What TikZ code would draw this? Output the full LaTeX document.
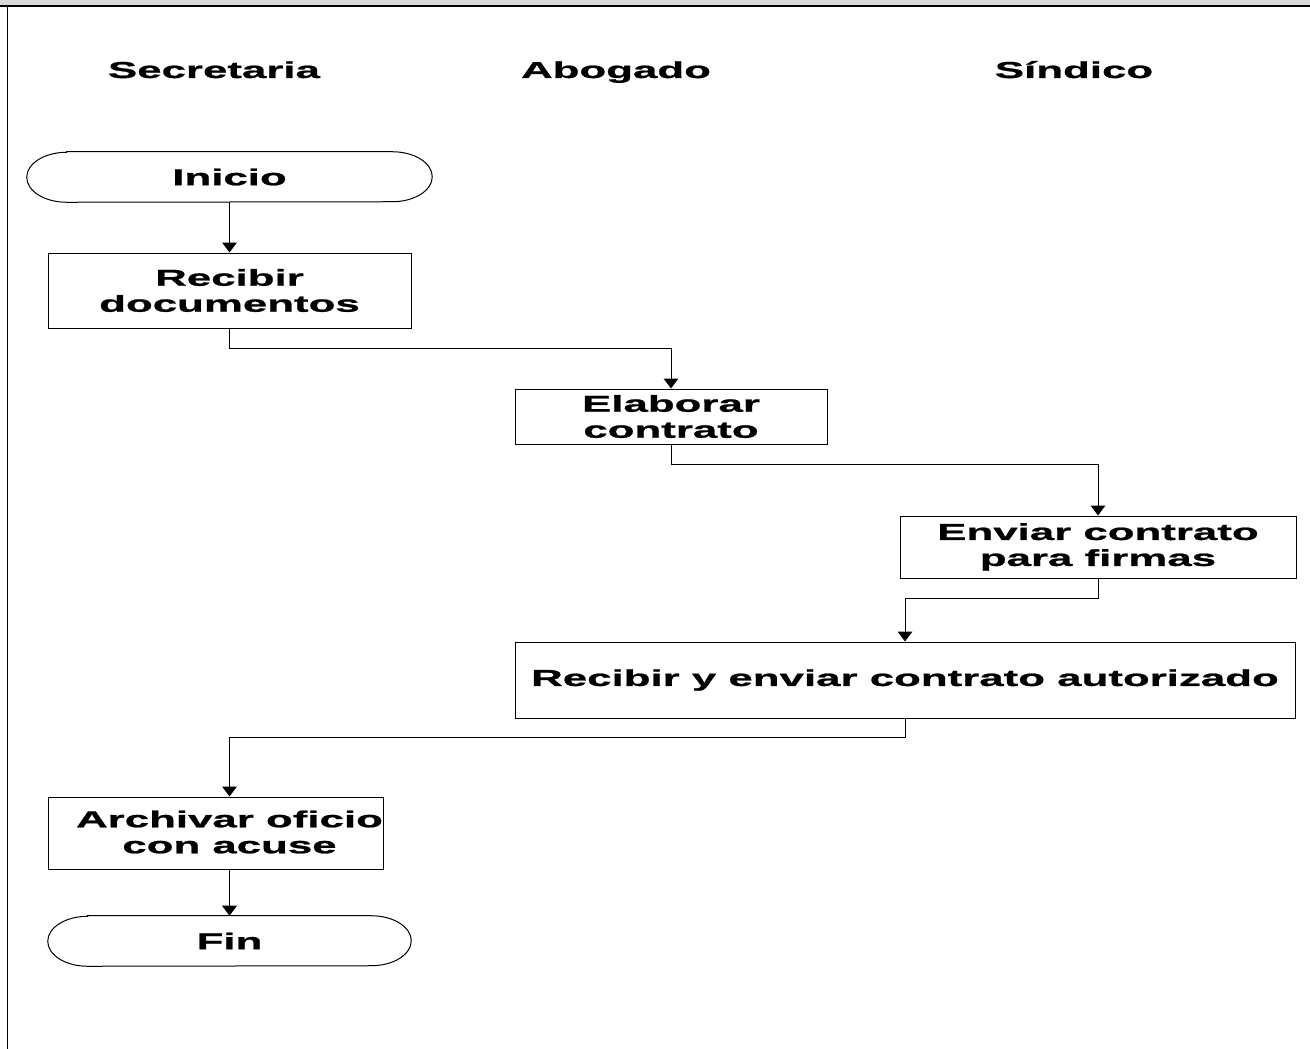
\documentclass[tikz,border=0pt]{standalone}
\usepackage{fontspec}
\setmainfont{Liberation Sans}[FakeStretch=1.9,FakeBold=1]
\usetikzlibrary{arrows.meta}
\begin{document}
\begin{tikzpicture}[x=0.75pt,y=-0.75pt,
  lbl/.style={font=\fontsize{17.3}{19.5}\selectfont\bfseries, align=center, inner sep=0pt},
  head/.style={lbl, anchor=base},
  proc/.style={lbl, draw=black, line width=0.75pt},
  term/.style={lbl, minimum height=50*0.75pt},
  flow/.style={-{Triangle[width=11pt,length=7.5pt]}, line width=0.75pt}]
\useasboundingbox (0,0) rectangle (1310,1049);

% frame: grey title strip and left border
\fill[gray!30] (0,0) rectangle (1310,6);
\draw[line width=0.9pt] (0,6) -- (1310,6);
\draw[line width=0.9pt] (7.5,6) -- (7.5,1049);

% lane headings
\node[head] (hSec) at (214,78) {Secretaria};
\node[head] (hAbo) at (616,78) {Abogado};
\node[head] (hSin) at (1074,78) {Síndico};

% steps
\node[term, minimum width=405*0.75pt] (inicio) at (229.5,177) {Inicio};
\node[proc, minimum width=363*0.75pt, minimum height=75*0.75pt] (recibir) at (229.5,290.5) {Recibir\\documentos};
\node[proc, minimum width=312*0.75pt, minimum height=55*0.75pt] (elaborar) at (671,416.5) {Elaborar\\contrato};
\node[proc, minimum width=396*0.75pt, minimum height=62*0.75pt] (enviar) at (1098,547) {Enviar contrato\\para firmas};
\node[proc, minimum width=780*0.75pt, minimum height=76*0.75pt] (recEnv) at (905,680) {Recibir y enviar contrato autorizado};
\node[draw=black, line width=0.75pt, minimum width=335*0.75pt, minimum height=72*0.75pt, inner sep=0pt] (archivar) at (215.5,833) {};
\node[lbl] (archTxt) at (229.5,832) {Archivar oficio\\con acuse};
\node[term, minimum width=363*0.75pt] (fin) at (229.5,941) {Fin};

% terminal outlines with elliptical ends
\foreach \t in {inicio,fin}{
  \draw[line width=0.75pt] ([xshift=30pt]\t.north west) -- ([xshift=-30pt]\t.north east)
    arc[start angle=90,end angle=-90,x radius=30pt,y radius=18.75pt]
    -- ([xshift=30pt]\t.south west)
    arc[start angle=270,end angle=90,x radius=30pt,y radius=18.75pt] -- cycle;
}

% connectors
\draw[flow] (inicio.south) -- (recibir.north);
\draw[flow] (recibir.south) -- ++(0,20) -| (elaborar.north);
\draw[flow] (elaborar.south) -- ++(0,20) -| (enviar.north);
\draw[flow] (enviar.south) -- ++(0,20) -| (recEnv.north);
\draw[flow] (recEnv.south) -- ++(0,19) -| (archTxt |- archivar.north);
\draw[flow] (archTxt |- archivar.south) -- (fin.north);
\end{tikzpicture}
\end{document}
